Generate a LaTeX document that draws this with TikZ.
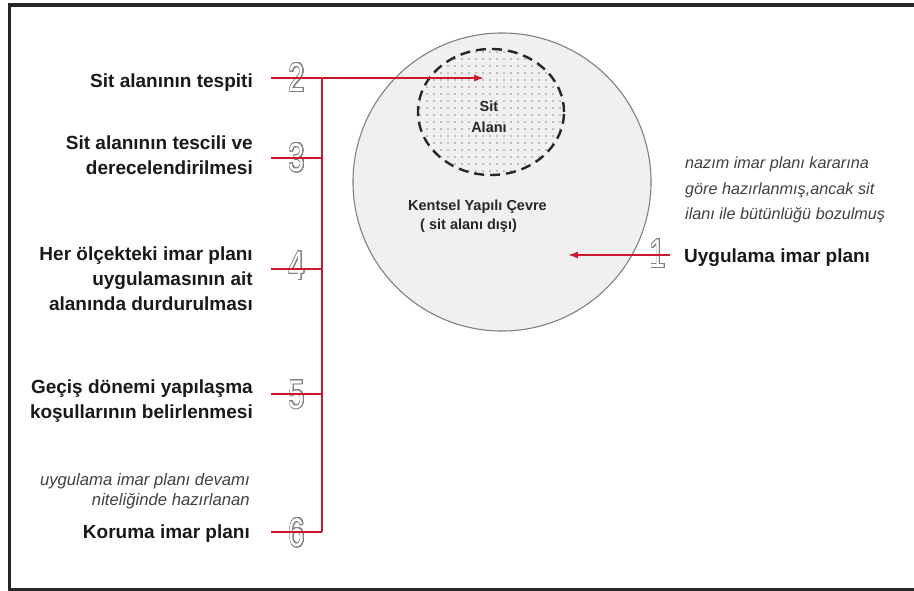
\documentclass[tikz,border=0pt]{standalone}
\usepackage{fontspec}
\setmainfont{Liberation Sans}
\newfontfamily\digitfont{Liberation Sans}[FakeStretch=0.72]
\usepackage{contour}
\usetikzlibrary{arrows.meta}
\usetikzlibrary{patterns.meta}
\usetikzlibrary{shapes.geometric}
\definecolor{sitred}{RGB}{204,24,44}
\contourlength{0.9pt}
\contournumber{32}

\begin{document}
\begin{tikzpicture}[x=1pt,y=-1pt,
                label node/.style={font=\bfseries\fontsize{19}{25}\selectfont,inner sep=0pt,align=right,text=black!90},
                note node/.style={font=\itshape\fontsize{16.7}{20.5}\selectfont,inner sep=0pt,text=black!75},
                inner node/.style={font=\bfseries\fontsize{14.5}{21.5}\selectfont,inner sep=0pt,text=black!85},
                digit node/.style={font=\digitfont\fontsize{40}{40}\selectfont,inner sep=0pt,text=white},
                red line/.style={draw=sitred,line width=1.6pt},
                ]
                \useasboundingbox (0,0) rectangle (914,591);
                \def\Bx{322}
                % frame
                \draw[line width=3.2pt,black!85] (914,5) -- (9.5,5) -- (9.5,589.5) -- (914,589.5);

                % areas
                \node[circle,draw=gray,fill=gray!12,line width=1.1pt,minimum size=298pt,inner sep=0pt] (env) at (502,182) {};
                \node[ellipse,draw=black!85,dashed,dash pattern=on 10pt off 6pt,line width=2.4pt,
                      pattern={Dots[distance=7pt,radius=0.95pt]},pattern color=gray!90,
                      minimum width=146pt,minimum height=126pt,inner sep=0pt] (sit) at (491,112) {};
                \node[inner node,align=center] (sitlbl) at (489,117) {Sit\\Alanı};
                \node[inner node,align=left,anchor=west,font=\bfseries\fontsize{14.5}{19.3}\selectfont] (envlbl) at (408,216.5)
                      {Kentsel Yapılı Çevre\\\hspace*{12pt}( sit alanı dışı)};

                % left labels
                \node[label node,anchor=base east] (l2) at (253,88) {Sit alanının tespiti};
                \node[label node,anchor=east] (l3) at (253,155) {Sit alanının tescili ve\\derecelendirilmesi};
                \node[label node,anchor=east] (l4) at (253,279) {Her ölçekteki imar planı\\uygulamasının ait\\alanında durdurulması};
                \node[label node,anchor=east] (l5) at (253,401) {Geçiş dönemi yapılaşma\\koşullarının belirlenmesi};
                \node[note node,align=right,anchor=east] (n6) at (250,491) {uygulama imar planı devamı\\niteliğinde hazırlanan};
                \node[label node,anchor=base east] (l6) at (250,538) {Koruma imar planı};

                % right labels
                \node[note node,align=left,anchor=west,font=\itshape\fontsize{16.2}{25.5}\selectfont] (n1) at (685,190)
                      {nazım imar planı kararına\\göre hazırlanmış,ancak sit\\ilanı ile bütünlüğü bozulmuş};
                \node[label node,anchor=base west] (l1) at (684,262) {Uygulama imar planı};

                % numbers
                \node[digit node] (d1) at (658,254) {\contour{gray}{1}};
                \node[digit node] (d2) at (297,78) {\contour{gray}{2}};
                \node[digit node] (d3) at (297,158) {\contour{gray}{3}};
                \node[digit node] (d4) at (297,266) {\contour{gray}{4}};
                \node[digit node] (d5) at (297,395) {\contour{gray}{5}};
                \node[digit node] (d6) at (297,533) {\contour{gray}{6}};

                % connectors
                \coordinate (s2) at (271,78);
                \coordinate (b2) at (\Bx,78);
                \coordinate (tip2) at (484,78);
                \foreach \i/\y in {3/158,4/269,5/394,6/532}{
                    \coordinate (s\i) at (271,\y);
                    \coordinate (b\i) at (\Bx,\y);
                    \draw[red line] (s\i) -- (b\i);
                }
                \draw[red line] (b2) -- (b6);
                \draw[red line,-{Latex[length=10pt,width=7pt]}] (s2) -- (tip2);
                \coordinate (s1) at (670,255);
                \coordinate (tip1) at (568,255);
                \draw[red line,-{Latex[length=10pt,width=7pt]}] (s1) -- (tip1);
            \end{tikzpicture}
\end{document}
